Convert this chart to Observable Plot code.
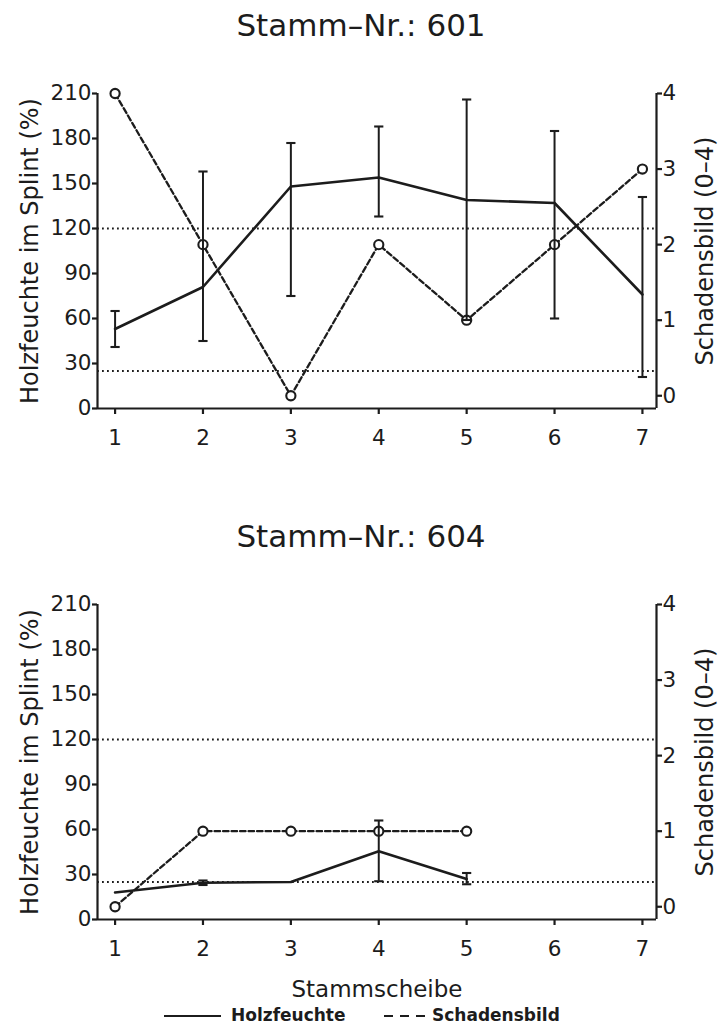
<!DOCTYPE html>
<html>
<head>
<meta charset="utf-8">
<script src="https://cdn.jsdelivr.net/npm/d3@7"></script>
<script src="https://cdn.jsdelivr.net/npm/@observablehq/plot@0.6"></script>
<style>
  html, body { margin: 0; padding: 0; background: #fff; }
  #page { position: relative; width: 721px; height: 1030px; font-family: "DejaVu Sans", sans-serif; color: #1c1c1c; }
  #page svg { display: block; }
  .legend { position: absolute; top: 1003px; left: 0; width: 721px; height: 27px; }
  .legend span { position: absolute; top: 0; font-size: 17px; font-weight: 600; line-height: 24px; }
  .legend svg { position: absolute; top: 0; }
</style>
</head>
<body>
<div id="page"></div>
<script>
// ---- data ----
const stammscheibe = [1, 2, 3, 4, 5, 6, 7];
const xTicks = [1, 2, 3, 4, 5, 6, 7];
const yTicks = [0, 30, 60, 90, 120, 150, 180, 210];
const damageTicks = [0, 1, 2, 3, 4];
const thresholds = [120, 25];

// Stamm 601
const feuchte601 = [53, 81, 148, 154, 139, 137, 76];
const feuchte601Min = [41, 45, 75, 128, 59, 60, 21];
const feuchte601Max = [65, 158, 177, 188, 206, 185, 141];
const schaden601 = [4, 2, 0, 2, 1, 2, 3];

// Stamm 604
const scheibe604 = [1, 2, 3, 4, 5];
const feuchte604 = [18, 24.5, 25, 45.5, 27];
const feuchte604Min = [null, 23, null, 25.5, 23.5];
const feuchte604Max = [null, 26, null, 66, 31];
const schaden604 = [0, 1, 1, 1, 1];

// scales
const X_DOMAIN = [0.8, 7.16];
const Y_DOMAIN = [0, 210];
// right axis (Schadensbild 0–4) expressed in left-axis units
const DMG_OFFSET = 8.5, DMG_SCALE = 50.375;
const toLeft = v => DMG_OFFSET + v * DMG_SCALE;

const INK = "#1c1c1c";
const capSymbol = {
  draw(context, size) {
    const r = Math.sqrt(size / Math.PI);
    context.moveTo(-r, 0);
    context.lineTo(r, 0);
  }
};

function chart({title, xs, moist, lo, hi, dmg, height, xLabel}) {
  const moistData = xs.map((x, i) => ({x, y: moist[i]}));
  const errData = xs.map((x, i) => ({x, lo: lo[i], hi: hi[i]})).filter(d => d.lo != null && d.hi != null);
  const dmgData = xs.map((x, i) => ({x, v: dmg[i]}));
  const marks = [
    Plot.ruleY(thresholds, {stroke: INK, strokeWidth: 1.9, strokeDasharray: "1.8,3.2"}),
    // axis lines
    Plot.ruleX([X_DOMAIN[0], X_DOMAIN[1]], {y1: Y_DOMAIN[0], y2: Y_DOMAIN[1], stroke: INK, strokeWidth: 2.2}),
    Plot.ruleY([Y_DOMAIN[0]], {x1: X_DOMAIN[0], x2: X_DOMAIN[1], stroke: INK, strokeWidth: 2.2}),
    Plot.axisY({ticks: yTicks, tickSize: 5, tickPadding: 1, fontSize: 21.5, label: null, stroke: INK, strokeWidth: 2.2}),
    Plot.axisY({anchor: "right", ticks: damageTicks.map(toLeft), tickFormat: d => String(Math.round((d - DMG_OFFSET) / DMG_SCALE)),
      tickSize: 5, tickPadding: 1, fontSize: 21.5, label: null, stroke: INK, strokeWidth: 2.2}),
    Plot.axisX({ticks: xTicks, tickFormat: d => String(d), tickSize: 6, tickPadding: 15, fontSize: 21.5, label: null, stroke: INK, strokeWidth: 2.2}),
    Plot.line(moistData, {x: "x", y: "y", stroke: INK, strokeWidth: 2.6}),
    Plot.line(dmgData, {x: "x", y: d => toLeft(d.v), stroke: INK, strokeWidth: 2.3, strokeDasharray: "5.5,3"}),
    Plot.dot(dmgData, {x: "x", y: d => toLeft(d.v), r: 4.6, fill: "white", stroke: INK, strokeWidth: 2.1}),
    Plot.ruleX(errData, {x: "x", y1: "lo", y2: "hi", stroke: INK, strokeWidth: 2}),
    Plot.dot(errData, {x: "x", y: "lo", symbol: capSymbol, r: 4.6, fill: "none", stroke: INK, strokeWidth: 2.1}),
    Plot.dot(errData, {x: "x", y: "hi", symbol: capSymbol, r: 4.6, fill: "none", stroke: INK, strokeWidth: 2.1}),
    Plot.text([title], {frameAnchor: "top", dx: -16, dy: -58, lineAnchor: "bottom", fontSize: 31, fill: INK}),
    Plot.text(["Holzfeuchte im Splint (%)"], {frameAnchor: "left", textAnchor: "middle", lineAnchor: "middle", dx: -67, rotate: -90, fontSize: 24, fill: INK}),
    Plot.text(["Schadensbild (0–4)"], {frameAnchor: "right", textAnchor: "middle", lineAnchor: "middle", dx: 49, rotate: -90, fontSize: 24, fill: INK})
  ];
  if (xLabel) marks.push(Plot.text([xLabel], {frameAnchor: "bottom", dy: 77, lineAnchor: "bottom", fontSize: 23, fill: INK}));
  return Plot.plot({
    width: 721,
    height,
    marginTop: 93,
    marginBottom: height - 93 - 315,
    marginLeft: 97,
    marginRight: 65,
    x: {domain: X_DOMAIN, axis: null},
    y: {domain: Y_DOMAIN, axis: null},
    style: {fontFamily: "DejaVu Sans, sans-serif", fontSize: "20px", color: INK, background: "white", overflow: "visible"},
    marks
  });
}

const page = document.getElementById("page");
page.append(chart({title: "Stamm–Nr.: 601", xs: stammscheibe, moist: feuchte601, lo: feuchte601Min, hi: feuchte601Max, dmg: schaden601, height: 511}));
page.append(chart({title: "Stamm–Nr.: 604", xs: scheibe604, moist: feuchte604, lo: feuchte604Min, hi: feuchte604Max, dmg: schaden604, height: 489, xLabel: "Stammscheibe"}));

// legend
const legend = document.createElement("div");
legend.className = "legend";
legend.innerHTML = `
  <svg width="60" height="24" style="left:163px"><line x1="1" x2="58" y1="13" y2="13" stroke="${INK}" stroke-width="2"/></svg>
  <span style="left:231px">Holzfeuchte</span>
  <svg width="46" height="24" style="left:383px"><line x1="1" x2="44" y1="13" y2="13" stroke="${INK}" stroke-width="2" stroke-dasharray="9,7"/></svg>
  <span style="left:432px">Schadensbild</span>`;
page.append(legend);
</script>
</body>
</html>
